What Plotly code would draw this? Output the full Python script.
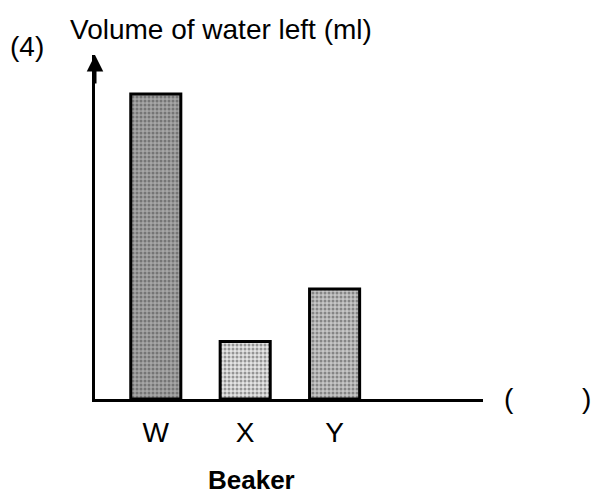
import plotly.graph_objects as go

# Data
beakers = ["W", "X", "Y"]
volume_left = [61, 11.5, 22]          # arbitrary units (no scale on chart)
bar_bg = ["#a6a6a6", "#e4e4e4", "#c6c6c6"]
bar_fg = ["#2e2e2e", "#5a5a5a", "#3e3e3e"]

W, H = 594, 495
FONT = "Liberation Sans, Arial, sans-serif"

fig = go.Figure()
fig.add_trace(go.Bar(
    x=beakers,
    y=volume_left,
    width=0.56,
    marker=dict(
        color=bar_bg,
        line=dict(color="black", width=3),
        pattern=dict(shape=".", bgcolor=bar_bg, fgcolor=bar_fg,
                     size=4, solidity=0.45, fillmode="overlay"),
    ),
    showlegend=False,
    hoverinfo="skip",
))

fig.update_layout(
    width=W, height=H,
    margin=dict(l=0, r=0, t=0, b=0),
    paper_bgcolor="white", plot_bgcolor="white",
    font=dict(family=FONT, color="black"),
    xaxis=dict(
        domain=[95 / W, 483 / W],
        range=[-0.68, 3.66],
        showline=True, linecolor="black", linewidth=3,
        showgrid=False, zeroline=False, ticks="",
        tickfont=dict(size=28, family=FONT),
        ticklabelstandoff=6,
        fixedrange=True,
    ),
    yaxis=dict(
        domain=[(H - 399) / H, (H - 55) / H],
        range=[0, 68.8],
        showline=True, linecolor="black", linewidth=3,
        showgrid=False, zeroline=False, ticks="", showticklabels=False,
        fixedrange=True,
    ),
    annotations=[
        dict(xref="x domain", yref="y domain", x=0, y=1, ax=0, ay=30,
             text="", showarrow=True, arrowhead=2, arrowsize=1.1,
             arrowwidth=3, arrowcolor="black"),
        dict(xref="paper", yref="paper", x=68 / W, y=1 - 29 / H,
             xanchor="left", yanchor="middle", showarrow=False,
             text="Volume of water left (ml)", font=dict(size=28)),
        dict(xref="paper", yref="paper", x=27 / W, y=1 - 47 / H,
             xanchor="center", yanchor="middle", showarrow=False,
             text="(4)", font=dict(size=28)),
        dict(xref="paper", yref="paper", x=251 / W, y=1 - 480 / H,
             xanchor="center", yanchor="middle", showarrow=False,
             text="<b>Beaker</b>", font=dict(size=26)),
        dict(xref="paper", yref="paper", x=509 / W, y=1 - 398 / H,
             xanchor="center", yanchor="middle", showarrow=False,
             text="(", font=dict(size=28)),
        dict(xref="paper", yref="paper", x=586 / W, y=1 - 398 / H,
             xanchor="center", yanchor="middle", showarrow=False,
             text=")", font=dict(size=28)),
    ],
)

fig.write_html(
    "out.html",
    config={"displayModeBar": False},
    post_script="document.body.style.margin='0';document.body.style.overflow='hidden';",
)
